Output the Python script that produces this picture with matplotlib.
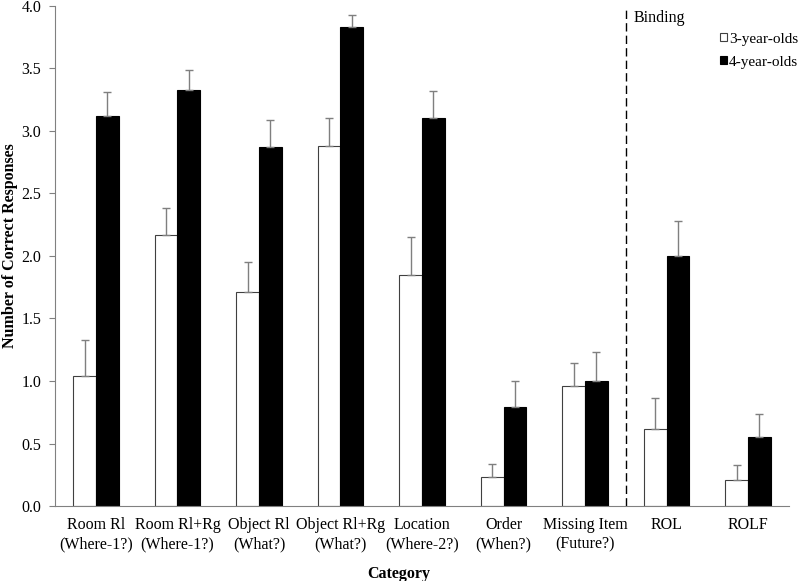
import matplotlib
matplotlib.use("Agg")
import matplotlib.pyplot as plt
import numpy as np

categories = ["Room Rl\n(Where-1?)", "Room Rl+Rg\n(Where-1?)", "Object Rl\n(What?)",
              "Object Rl+Rg\n(What?)", "Location\n(Where-2?)", "Order\n(When?)",
              "Missing Item\n(Future?)", "ROL", "ROLF"]
three_year = [1.04, 2.17, 1.71, 2.88, 1.85, 0.23, 0.96, 0.62, 0.21]
three_err = [0.29, 0.21, 0.24, 0.22, 0.30, 0.11, 0.18, 0.24, 0.12]
four_year = [3.12, 3.33, 2.87, 3.83, 3.10, 0.79, 1.00, 2.00, 0.55]
four_err = [0.19, 0.16, 0.22, 0.10, 0.22, 0.21, 0.23, 0.28, 0.19]
yticks = [0.0, 0.5, 1.0, 1.5, 2.0, 2.5, 3.0, 3.5, 4.0]

plt.rcParams['font.family'] = ['Liberation Serif', 'DejaVu Serif']

fig = plt.figure(figsize=(8, 5.81), dpi=100)
ax = fig.add_axes([0.069, 0.129, 0.917, 0.861])

x = np.arange(len(categories))
w = 0.28
ekw = dict(ecolor='#7f7f7f', elinewidth=1.0, capsize=3, capthick=1.0)
ax.bar(x - w/2, three_year, w, color='white', edgecolor='#404040', linewidth=0.8,
       yerr=[np.zeros(len(x)), three_err], error_kw=ekw, label='3-year-olds')
ax.bar(x + w/2, four_year, w, color='black', edgecolor='black', linewidth=0.8,
       yerr=[np.zeros(len(x)), four_err], error_kw=ekw, label='4-year-olds')

ax.set_xlim(-0.5, len(categories) - 0.5)
ax.set_ylim(0, 4.0)
ax.set_yticks(yticks)
ax.set_yticklabels([f"{t:.1f}" for t in yticks], fontsize=11.5)
ax.set_xticks(x)
ax.set_xticklabels(categories, fontsize=11.5, linespacing=1.25)
ax.tick_params(axis='x', length=0, pad=8)
ax.tick_params(axis='y', length=4, color='#808080', width=0.8, pad=6)

for s in ['top', 'right']:
    ax.spines[s].set_visible(False)
ax.spines['left'].set_color('#808080')
ax.spines['bottom'].set_color('#808080')

ax.axvline(6.5, color='black', linestyle=(0, (6, 3)), linewidth=1.0)
ax.text(6.6, 3.90, "Binding", fontsize=11.5, va='center', ha='left')

fig.text(0.012, 0.578, "Number of Correct Responses", fontsize=11.5, fontweight='bold',
         rotation=90, ha='center', va='center')
fig.text(0.4985, 0.012, "Category", fontsize=11.5, fontweight='bold',
         ha='center', va='center')

leg = ax.legend(loc='upper left', bbox_to_anchor=(0.906, 0.946), frameon=False, fontsize=11,
                handlelength=0.45, handleheight=0.45, handletextpad=0.15, labelspacing=0.65,
                borderpad=0, borderaxespad=0)

fig.savefig("out.png", dpi=100)
